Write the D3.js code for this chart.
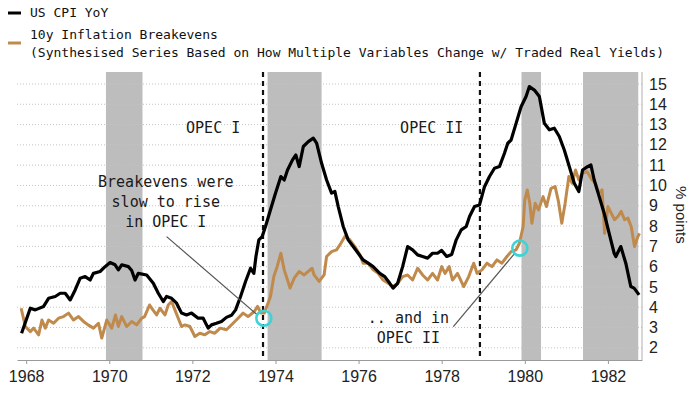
<!DOCTYPE html>
<html>
<head>
<meta charset="utf-8">
<script src="https://cdn.jsdelivr.net/npm/d3@7"></script>
<style>
	body { margin: 0; background: #fff; }
</style>
</head>
<body>
<svg id="InflationChart"></svg>
<script>

// US CPI YoY, [year, % points]
var cpiYoY = [
	[1967.89, 2.72], [1968.10, 3.95], [1968.22, 3.87], [1968.42, 4.04], [1968.54, 4.44],
	[1968.70, 4.53], [1968.82, 4.69], [1968.94, 4.69], [1969.06, 4.36], [1969.18, 4.85],
	[1969.30, 5.43], [1969.42, 5.51], [1969.54, 5.34], [1969.62, 5.67], [1969.78, 5.76],
	[1969.90, 6.00], [1970.02, 6.20], [1970.14, 6.09], [1970.22, 5.84], [1970.30, 6.09],
	[1970.46, 6.00], [1970.54, 5.81], [1970.62, 5.34], [1970.70, 5.67], [1970.90, 5.59],
	[1971.06, 5.18], [1971.18, 4.69], [1971.30, 4.28], [1971.38, 4.53], [1971.50, 4.44],
	[1971.62, 4.20], [1971.74, 3.71], [1971.86, 3.62], [1971.98, 3.71], [1972.14, 3.46],
	[1972.26, 3.46], [1972.38, 2.97], [1972.46, 3.13], [1972.58, 3.21], [1972.70, 3.30],
	[1972.82, 3.50], [1972.94, 3.60], [1973.04, 3.87], [1973.16, 4.53], [1973.28, 5.27],
	[1973.40, 5.92], [1973.48, 5.67], [1973.53, 6.50], [1973.60, 7.32], [1973.68, 7.48],
	[1973.76, 7.98], [1973.88, 8.80], [1974.00, 9.62], [1974.13, 10.44], [1974.21, 10.27],
	[1974.29, 10.76], [1974.41, 11.26], [1974.49, 11.50], [1974.57, 10.93], [1974.67, 11.92],
	[1974.79, 12.16], [1974.91, 12.33], [1974.99, 12.08], [1975.11, 11.09], [1975.23, 10.27],
	[1975.35, 9.62], [1975.43, 9.70], [1975.51, 8.96], [1975.63, 7.98], [1975.75, 7.32],
	[1975.87, 6.99], [1975.99, 6.66], [1976.11, 6.33], [1976.23, 6.17], [1976.35, 6.00],
	[1976.51, 5.67], [1976.63, 5.51], [1976.75, 5.18], [1976.83, 4.94], [1976.94, 5.18],
	[1977.06, 6.00], [1977.18, 6.99], [1977.30, 6.83], [1977.42, 6.58], [1977.54, 6.50],
	[1977.66, 6.42], [1977.78, 6.66], [1977.90, 6.66], [1978.00, 6.80], [1978.12, 6.50],
	[1978.24, 6.60], [1978.35, 7.32], [1978.47, 7.81], [1978.59, 7.98], [1978.67, 8.47],
	[1978.79, 8.96], [1978.91, 9.04], [1979.03, 9.94], [1979.15, 10.44], [1979.27, 10.85],
	[1979.39, 10.93], [1979.51, 11.59], [1979.59, 12.08], [1979.67, 12.24], [1979.79, 13.06],
	[1979.91, 13.88], [1980.03, 14.38], [1980.11, 14.87], [1980.23, 14.70], [1980.35, 14.38],
	[1980.47, 13.06], [1980.59, 12.74], [1980.71, 12.82], [1980.83, 12.41], [1980.95, 11.75],
	[1981.07, 10.93], [1981.19, 10.11], [1981.30, 9.70], [1981.39, 10.76], [1981.51, 10.93],
	[1981.59, 11.01], [1981.67, 10.27], [1981.79, 9.45], [1981.91, 8.63], [1982.03, 7.64],
	[1982.15, 6.66], [1982.19, 6.50], [1982.31, 6.99], [1982.43, 6.17], [1982.55, 5.02],
	[1982.63, 4.94], [1982.75, 4.61]
];

// synthesised 10y breakevens, [year, % points]
var breakevens = [
	[1967.88, 3.95], [1967.98, 3.05], [1968.10, 2.80], [1968.18, 2.97], [1968.30, 2.64],
	[1968.38, 3.37], [1968.46, 2.97], [1968.54, 3.37], [1968.66, 3.21], [1968.78, 3.46],
	[1968.90, 3.54], [1969.02, 3.71], [1969.14, 3.37], [1969.26, 3.54], [1969.38, 3.30],
	[1969.49, 3.13], [1969.62, 2.97], [1969.74, 3.21], [1969.82, 2.48], [1969.94, 3.37],
	[1970.06, 2.97], [1970.15, 3.62], [1970.22, 3.05], [1970.30, 3.54], [1970.42, 3.05],
	[1970.54, 3.30], [1970.66, 3.13], [1970.78, 3.46], [1970.85, 3.54], [1970.97, 4.11],
	[1971.05, 3.87], [1971.14, 3.62], [1971.22, 3.95], [1971.34, 3.62], [1971.42, 4.11],
	[1971.50, 4.28], [1971.58, 3.87], [1971.66, 3.46], [1971.74, 3.05], [1971.82, 3.13],
	[1971.94, 3.05], [1972.06, 2.56], [1972.18, 2.72], [1972.30, 2.64], [1972.42, 2.80],
	[1972.54, 2.72], [1972.67, 2.97], [1972.82, 2.89], [1972.98, 3.21], [1973.10, 3.46],
	[1973.22, 3.71], [1973.34, 3.54], [1973.49, 3.79], [1973.57, 4.04], [1973.65, 3.71],
	[1973.73, 3.71], [1973.82, 4.20], [1973.88, 4.53], [1973.96, 5.51], [1974.04, 6.00],
	[1974.13, 6.66], [1974.21, 5.84], [1974.29, 5.34], [1974.35, 4.94], [1974.45, 5.43],
	[1974.57, 5.76], [1974.69, 5.59], [1974.88, 5.92], [1974.93, 5.59], [1975.05, 5.27],
	[1975.17, 5.59], [1975.23, 6.50], [1975.35, 6.74], [1975.47, 6.83], [1975.55, 7.07],
	[1975.67, 7.48], [1975.79, 7.32], [1975.91, 6.99], [1976.03, 6.58], [1976.11, 6.17],
	[1976.23, 6.17], [1976.35, 5.84], [1976.47, 5.67], [1976.59, 5.34], [1976.71, 5.18],
	[1976.83, 5.02], [1976.94, 5.18], [1977.06, 5.51], [1977.18, 5.59], [1977.30, 5.34],
	[1977.42, 5.92], [1977.54, 5.59], [1977.66, 5.34], [1977.78, 5.67], [1977.90, 5.34],
	[1978.00, 6.00], [1978.08, 5.67], [1978.18, 6.00], [1978.26, 5.34], [1978.38, 5.67],
	[1978.53, 5.02], [1978.65, 5.51], [1978.77, 6.17], [1978.85, 5.67], [1978.97, 5.84],
	[1979.09, 6.17], [1979.21, 6.00], [1979.33, 6.33], [1979.45, 6.17], [1979.57, 6.50],
	[1979.67, 6.74], [1979.79, 6.83], [1979.87, 7.15], [1979.96, 7.98], [1980.00, 9.29],
	[1980.06, 9.78], [1980.12, 9.12], [1980.17, 8.14], [1980.25, 9.12], [1980.33, 8.80],
	[1980.44, 9.45], [1980.52, 8.96], [1980.63, 9.86], [1980.73, 9.94], [1980.81, 9.20],
	[1980.89, 8.14], [1980.97, 9.12], [1981.06, 10.44], [1981.14, 10.11], [1981.22, 10.76],
	[1981.30, 10.27], [1981.38, 10.60], [1981.50, 10.68], [1981.62, 10.27], [1981.70, 10.11],
	[1981.78, 9.62], [1981.86, 9.78], [1981.92, 7.64], [1982.00, 8.96], [1982.08, 8.63],
	[1982.16, 8.31], [1982.24, 8.47], [1982.32, 8.72], [1982.40, 8.31], [1982.48, 8.39],
	[1982.56, 7.98], [1982.64, 6.99], [1982.72, 7.48], [1982.76, 7.64]
];

// recession shading, [start, end] in years
var recessions = [[1969.92, 1970.80], [1973.81, 1975.11], [1979.92, 1980.39], [1981.40, 1982.73]];
// start of each oil shock (dashed lines)
var opecStarts = [1973.70, 1978.92];

var xTicks = [1968, 1970, 1972, 1974, 1976, 1978, 1980, 1982];
var yTicks = d3.range(2, 16);

var seriesNames = ["US CPI YoY", "10y Inflation Breakevens"];
var seriesSubtitle = "(Synthesised Series Based on How Multiple Variables Change w/ Traded Real Yields)";

// highlighted breakeven points, [year, value]
var highlights = [[1973.72, 3.46], [1979.88, 6.91]];

// callouts: text lines with [year, value] anchors, pointer from -> to
var calloutText = [
	{lines: ["OPEC I"], at: [1972.5, 12.83]},
	{lines: ["OPEC II"], at: [1977.76, 12.83]},
	{lines: ["Breakevens were", "slow to rise", "in OPEC I"], at: [1971.36, 10.17]},
	{lines: [".. and in", "OPEC II"], at: [1977.2, 3.47]}
];
var pointers = [
	[[1971.38, 7.48], [1973.56, 3.63]],
	[[1978.28, 3.05], [1979.76, 6.66]]
];

class InflationChart {

	constructor() {
		this.svgWidth = 700;
		this.svgHeight = 394;
		this.margin = {top: 72, right: 58, bottom: 34, left: 17};
		this.width = this.svgWidth - this.margin.left - this.margin.right;
		this.height = this.svgHeight - this.margin.top - this.margin.bottom;

		this.color = d3.scaleOrdinal()
			.domain(seriesNames)
			.range(["#000000", "#c08a4c"]);

		this.x = d3.scaleLinear()
			.domain([1967.78, 1982.82])
			.range([this.margin.left, this.margin.left + this.width]);
		this.y = d3.scaleLinear()
			.domain([1.4, 15.59])
			.range([this.margin.top + this.height, this.margin.top]);
	}

	draw() {
		var x = this.x, y = this.y, color = this.color;
		var left = this.margin.left, right = this.margin.left + this.width;
		var top = this.margin.top, bottom = this.margin.top + this.height;

		var svg = d3.select('#InflationChart')
			.attr('width', this.svgWidth)
			.attr('height', this.svgHeight);

		// legend
		var legend = svg.append("g")
			.attr("font-family", "'DejaVu Sans Mono', monospace")
			.attr("font-size", 13)
			.attr("fill", "#111");
		legend.selectAll("line")
			.data(seriesNames)
			.enter().append("line")
				.attr("x1", 8).attr("x2", 21)
				.attr("y1", function(d, i) { return i ? 43 : 13; })
				.attr("y2", function(d, i) { return i ? 43 : 13; })
				.attr("stroke", color)
				.attr("stroke-width", 3);
		legend.append("text").attr("x", 30).attr("y", 17).text(seriesNames[0]);
		legend.append("text").attr("x", 30).attr("y", 39).text(seriesNames[1]);
		legend.append("text").attr("x", 30).attr("y", 57).text(seriesSubtitle);

		// recession bands
		svg.append("g").selectAll("rect")
			.data(recessions)
			.enter().append("rect")
				.attr("x", function(d) { return x(d[0]); })
				.attr("width", function(d) { return x(d[1]) - x(d[0]); })
				.attr("y", top)
				.attr("height", bottom - top)
				.attr("fill", "#bdbdbd");

		// dotted grid
		svg.append("g").selectAll("line")
			.data(yTicks)
			.enter().append("line")
				.attr("x1", left).attr("x2", right)
				.attr("y1", function(d) { return y(d); })
				.attr("y2", function(d) { return y(d); })
				.attr("stroke", "#c4c4c4")
				.attr("stroke-width", 1)
				.attr("stroke-dasharray", "1,2");

		// axes
		var xAxis = svg.append("g")
			.attr("class", "Xaxis axis")
			.attr("transform", "translate(0," + bottom + ")")
			.call(d3.axisBottom(x).tickValues(xTicks).tickFormat(d3.format("d"))
				.tickSizeInner(4).tickSizeOuter(0).tickPadding(7));
		xAxis.select(".domain").attr("stroke", "#9a9a9a");
		xAxis.selectAll(".tick line").attr("stroke", "#9a9a9a");
		xAxis.selectAll("text")
			.attr("font-family", "'Liberation Sans Narrow', 'Liberation Sans', sans-serif")
			.attr("font-size", 16)
			.attr("fill", "#222");

		var yAxis = svg.append("g")
			.attr("class", "Yaxis axis")
			.attr("transform", "translate(" + right + ",0)")
			.call(d3.axisRight(y).tickValues(yTicks).tickSizeInner(0).tickSizeOuter(0).tickPadding(7));
		yAxis.select(".domain").attr("stroke", "#b0b0b0").attr("d", "M0," + top + "V" + bottom);
		yAxis.selectAll("text")
			.attr("font-family", "'Liberation Sans Narrow', 'Liberation Sans', sans-serif")
			.attr("font-size", 16)
			.attr("fill", "#222");

		svg.append("text")
			.attr("transform", "translate(676," + y(8.55) + ") rotate(90)")
			.attr("text-anchor", "middle")
			.attr("font-family", "'Liberation Sans', sans-serif")
			.attr("font-size", 15)
			.attr("fill", "#222")
			.text("% points");

		// oil shock markers
		svg.append("g").selectAll("line")
			.data(opecStarts)
			.enter().append("line")
				.attr("x1", function(d) { return x(d); })
				.attr("x2", function(d) { return x(d); })
				.attr("y1", top).attr("y2", bottom)
				.attr("stroke", "#111")
				.attr("stroke-width", 2.2)
				.attr("stroke-dasharray", "5,4");

		// series
		var line = d3.line()
			.x(function(d) { return x(d[0]); })
			.y(function(d) { return y(d[1]); });

		svg.append("path")
			.datum(breakevens)
			.attr("fill", "none")
			.attr("stroke", color(seriesNames[1]))
			.attr("stroke-width", 3)
			.attr("stroke-linejoin", "round")
			.attr("d", line);

		svg.append("path")
			.datum(cpiYoY)
			.attr("fill", "none")
			.attr("stroke", color(seriesNames[0]))
			.attr("stroke-width", 3.2)
			.attr("stroke-linejoin", "round")
			.attr("d", line);

		// annotations
		svg.append("g").selectAll("line")
			.data(pointers)
			.enter().append("line")
				.attr("x1", function(d) { return x(d[0][0]); })
				.attr("y1", function(d) { return y(d[0][1]); })
				.attr("x2", function(d) { return x(d[1][0]); })
				.attr("y2", function(d) { return y(d[1][1]); })
				.attr("stroke", "#555")
				.attr("stroke-width", 1.2);

		svg.append("g").selectAll("circle")
			.data(highlights)
			.enter().append("circle")
				.attr("cx", function(d) { return x(d[0]); })
				.attr("cy", function(d) { return y(d[1]); })
				.attr("r", 7.5)
				.attr("fill", "none")
				.attr("stroke", "#3ed3d6")
				.attr("stroke-width", 2.6);

		var notes = svg.append("g")
			.attr("font-family", "'DejaVu Sans Mono', monospace")
			.attr("font-size", 15)
			.attr("fill", "#1a1a1a")
			.attr("text-anchor", "middle")
			.selectAll("text")
			.data(calloutText)
			.enter().append("text")
				.attr("x", function(d) { return x(d.at[0]); })
				.attr("y", function(d) { return y(d.at[1]); });
		notes.selectAll("tspan")
			.data(function(d) { return d.lines; })
			.enter().append("tspan")
				.attr("x", function() { return this.parentNode.getAttribute("x"); })
				.attr("dy", function(d, i) { return i ? 20 : 5; })
				.text(function(d) { return d; });
	}
}

new InflationChart().draw();

</script>
</body>
</html>
